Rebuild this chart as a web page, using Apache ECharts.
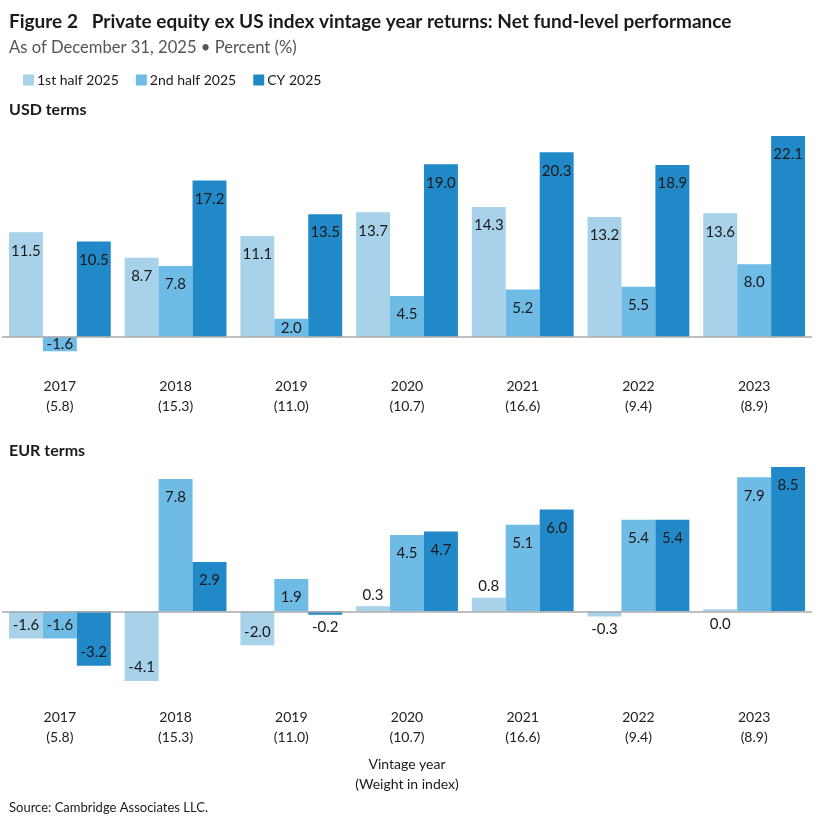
<!DOCTYPE html>
<html>
<head>
<meta charset="utf-8">
<script src="https://cdn.jsdelivr.net/npm/echarts@6/dist/echarts.min.js"></script>
<style>
  html, body { margin: 0; padding: 0; background: #fff; }
  #chart { width: 825px; height: 817px; }
</style>
</head>
<body>
<div id="chart"></div>
<script>
const years = ["2017", "2018", "2019", "2020", "2021", "2022", "2023"];
const weights = ["5.8", "15.3", "11.0", "10.7", "16.6", "9.4", "8.9"];
const seriesNames = ["1st half 2025", "2nd half 2025", "CY 2025"];

const usdFirst = [11.5, 8.7, 11.1, 13.7, 14.3, 13.2, 13.6];
const usdSecond = [-1.6, 7.8, 2.0, 4.5, 5.2, 5.5, 8.0];
const usdCY = [10.5, 17.2, 13.5, 19.0, 20.3, 18.9, 22.1];

const eurFirst = [-1.6, -4.1, -2.0, 0.3, 0.8, -0.3, 0.0];
const eurSecond = [-1.6, 7.8, 1.9, 4.5, 5.1, 5.4, 7.9];
const eurCY = [-3.2, 2.9, -0.2, 4.7, 6.0, 5.4, 8.5];

const colors = ["#a7d2ea", "#6ebbe6", "#2189c8"];
const font = "Lato";

const chart = echarts.init(document.getElementById("chart"));

// grid layout
const grids = [
  { top: 136, height: 219, min: -2, max: 22.1 },
  { top: 467, height: 214, min: -4.1, max: 8.5 }
];

// where a value label sits, depending on how tall the bar is
function labelFor(v, g) {
  const px = Math.abs(v) * g.height / (g.max - g.min);
  if (v > 0) {
    if (px < 16) return { position: "top", distance: 4 };
    if (px < 24) return { position: "inside" };
    return { position: "insideTop", distance: 11 };
  }
  if (px < 12) return { position: "bottom", distance: 5 };
  if (px < 24) return { position: "inside" };
  return { position: "insideBottom", distance: 6 };
}

function makeSeries(values, idx, gi) {
  const g = grids[gi];
  const s = {
    name: seriesNames[idx],
    type: "bar",
    xAxisIndex: gi,
    yAxisIndex: gi,
    barGap: "0%",
    barCategoryGap: "12%",
    barMinHeight: 2,
    itemStyle: { color: colors[idx] },
    data: values.map(v => ({ value: v, label: labelFor(v, g) })),
    label: {
      show: true,
      color: "#1a1a1a",
      fontFamily: font,
      fontSize: 15,
      formatter: p => p.value.toFixed(1)
    }
  };
  if (idx === 2) {
    s.markLine = {
      silent: true,
      symbol: "none",
      label: { show: false },
      lineStyle: { color: "#aaaaaa", width: 1.5, type: "solid" },
      data: [{ yAxis: 0 }]
    };
  }
  return s;
}

const catLabels = years.map((y, i) => y + "\n(" + weights[i] + ")");

function xAxisFor(gi, margin) {
  return {
    type: "category",
    gridIndex: gi,
    data: catLabels,
    axisLine: { show: false },
    axisTick: { show: false },
    axisLabel: {
      margin: margin,
      color: "#222",
      fontFamily: font,
      fontSize: 14,
      lineHeight: 20
    }
  };
}

function yAxisFor(gi) {
  return {
    type: "value",
    gridIndex: gi,
    min: grids[gi].min,
    max: grids[gi].max,
    show: false,
    splitLine: { show: false }
  };
}

const option = {
  animation: false,
  color: colors,
  title: [
    {
      text: "Figure 2   Private equity ex US index vintage year returns: Net fund-level performance",
      left: 4,
      top: 7,
      textStyle: { fontFamily: font, fontSize: 19, fontWeight: "bold", color: "#1a1a1a" }
    },
    {
      text: "As of December 31, 2025 • Percent (%)",
      left: 4,
      top: 34,
      textStyle: { fontFamily: font, fontSize: 16.6, fontWeight: "normal", color: "#555" }
    },
    {
      text: "USD terms",
      left: 4,
      top: 97,
      textStyle: { fontFamily: font, fontSize: 16, fontWeight: "bold", color: "#1a1a1a" }
    },
    {
      text: "EUR terms",
      left: 4,
      top: 438,
      textStyle: { fontFamily: font, fontSize: 16, fontWeight: "bold", color: "#1a1a1a" }
    },
    {
      text: "Source: Cambridge Associates LLC.",
      left: 4,
      top: 796,
      textStyle: { fontFamily: font, fontSize: 13, fontWeight: "normal", color: "#1a1a1a" }
    }
  ],
  legend: {
    data: seriesNames,
    left: 18,
    top: 68,
    icon: "rect",
    itemWidth: 11,
    itemHeight: 11,
    itemGap: 17,
    textStyle: { fontFamily: font, fontSize: 14, color: "#1a1a1a", padding: [0, 0, 0, -2] }
  },
  graphic: [
    {
      type: "text",
      x: 407,
      y: 754,
      style: {
        text: "Vintage year\n(Weight in index)",
        align: "center",
        verticalAlign: "top",
        fill: "#1a1a1a",
        font: "14px " + font,
        lineHeight: 20
      }
    }
  ],
  grid: grids.map(g => ({ left: 2, right: 13, top: g.top, height: g.height })),
  xAxis: [xAxisFor(0, 21), xAxisFor(1, 26)],
  yAxis: [yAxisFor(0), yAxisFor(1)],
  series: [
    makeSeries(usdFirst, 0, 0),
    makeSeries(usdSecond, 1, 0),
    makeSeries(usdCY, 2, 0),
    makeSeries(eurFirst, 0, 1),
    makeSeries(eurSecond, 1, 1),
    makeSeries(eurCY, 2, 1)
  ]
};

chart.setOption(option);
</script>
</body>
</html>
